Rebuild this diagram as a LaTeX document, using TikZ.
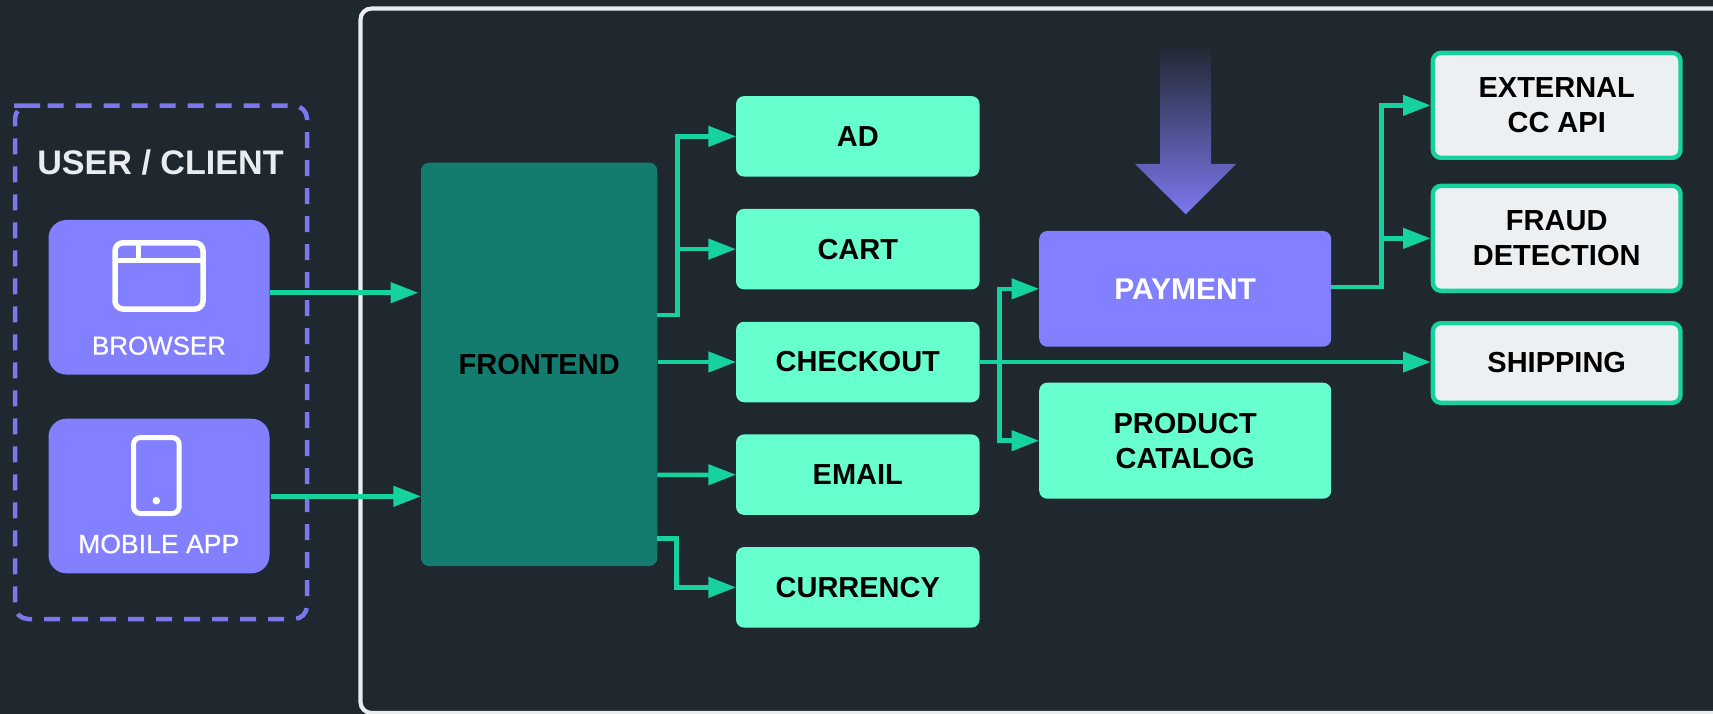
\documentclass[tikz,border=0pt]{standalone}
\usepackage{fontspec}
\setmainfont{Liberation Sans}
\newfontfamily\medfont[FakeBold=0.6]{Liberation Sans}
\usetikzlibrary{arrows.meta}
\definecolor{bgc}{HTML}{1F272F}
\definecolor{panelc}{HTML}{E9EDF0}
\definecolor{violetc}{HTML}{8280FF}
\definecolor{dashc}{HTML}{7B78EE}
\definecolor{mintc}{HTML}{67FFCD}
\definecolor{tealc}{HTML}{137C6E}
\definecolor{linec}{HTML}{15D29E}
\definecolor{palec}{HTML}{ECF0F3}
\tikzset{
  x=1pt,y=-1pt,
  boxbase/.style={rectangle,rounded corners=8pt,outer sep=0pt,inner sep=0pt,align=center,
    font=\fontsize{29}{35}\selectfont\bfseries,text=black},
  svc/.style={boxbase,fill=mintc,minimum width=243.5pt,minimum height=80.5pt},
  wide/.style={boxbase,fill=mintc,minimum width=292pt},
  ext/.style={boxbase,fill=palec,draw=linec,line width=4.4pt,outer sep=2.2pt,minimum width=247.6pt},
  client/.style={rectangle,rounded corners=18pt,fill=violetc,outer sep=0pt,inner sep=0pt,
    minimum width=221pt,minimum height=154.6pt},
  captext/.style={inner sep=0pt,text=white},
  link/.style={draw=linec,line width=4.5pt,-{Triangle[length=27.7pt,width=20pt]}},
  icon/.style={draw=white,line width=5.5pt},
}
\begin{document}
\begin{tikzpicture}
\useasboundingbox (0,0) rectangle (1713,714);
\clip (0,0) rectangle (1713,714);
\fill[bgc] (0,0) rectangle (1713,714);
% panel
\draw[panelc,line width=4.2pt,rounded corners=11pt] (1760,8.5) -- (360.5,8.5) -- (360.5,713) -- (1760,713);
% client group
\draw[dashc,line width=4.5pt,rounded corners=13pt,dash pattern=on 16pt off 12pt,dash phase=20.3pt]
  (27,105.7) -- (307,105.7) -- (307,619) -- (15,619) -- (15,105.7) -- cycle;
\node[inner sep=0pt,text=panelc,font=\fontsize{34.1}{40}\selectfont\bfseries] (title) at (160.5,162.5) {USER / CLIENT};
\node[client] (browser) at (159,297.3) {};
\node[client] (mobile) at (159,496) {};
\node[captext,font=\fontsize{25.9}{30}\medfont] (browsertext) at (159,345.7) {BROWSER};
\node[captext,font=\fontsize{26.6}{30}\medfont] (mobiletext) at (158.7,544) {MOBILE APP};
% browser icon
\draw[icon,rounded corners=8pt] (115,242.8) rectangle (203,309);
\draw[icon] (115,260.7) -- (203,260.7);
\draw[icon] (138.3,243) -- (138.3,260.7);
% phone icon
\draw[icon,line width=5pt,rounded corners=7pt] (133.5,437.5) rectangle (179.2,513.5);
\fill[white] (156.3,500.7) circle (3.8);
% main boxes
\node[boxbase,fill=tealc,minimum width=236.3pt,minimum height=403.3pt] (fe) at (539.15,364.35) {FRONTEND};
\node[svc] (ad) at (857.8,136.35) {AD};
\node[svc] (cart) at (857.8,249.15) {CART};
\node[svc] (checkout) at (857.8,362) {CHECKOUT};
\node[svc] (email) at (857.8,474.65) {EMAIL};
\node[svc] (currency) at (857.8,587.35) {CURRENCY};
\node[wide,fill=violetc,text=white,minimum height=115.7pt,font=\fontsize{30}{35}\selectfont\bfseries] (payment) at (1185.2,288.85) {PAYMENT};
\node[wide,minimum height=116pt] (catalog) at (1185.2,440.7) {PRODUCT\\CATALOG};
\node[ext,minimum height=104.9pt] (extapi) at (1556.7,105.35) {EXTERNAL\\CC API};
\node[ext,minimum height=104.9pt] (fraud) at (1556.7,238.35) {FRAUD\\DETECTION};
\node[ext,minimum height=79.6pt] (shipping) at (1556.7,363) {SHIPPING};
% load arrow
\shade[top color=bgc,bottom color=dashc,shading angle=0]
  (1160,43) -- (1211,43) -- (1211,164) -- (1236,164) -- (1185.7,214.3) -- (1135,164) -- (1160,164) -- cycle;
% connector anchors
\coordinate (feA) at (657.3,315);
\coordinate (busA) at (677.3,315);
\coordinate (feB) at (658.3,362);
\coordinate (feC) at (657.3,475);
\coordinate (feD) at (657.3,538.7);
\coordinate (busD) at (676.7,538.7);
\coordinate (browserOut) at (269.5,292.7);
\coordinate (browserIn) at (418.3,292.7);
\coordinate (mobileOut) at (270.7,496.3);
\coordinate (mobileIn) at (421,496.3);
\coordinate (coOut) at (979.5,362);
\coordinate (busC) at (999.3,362);
\coordinate (payOut) at (1331,287);
\coordinate (busP) at (1381.5,287);
% connectors
\draw[link] (browserOut) -- (browserIn);
\draw[link] (mobileOut) -- (mobileIn);
\draw[link] (feA) -- (busA) |- (ad.west);
\draw[link] (busA) |- (cart.west);
\draw[link] (feB) -- (checkout.west);
\draw[link] (feC) -- (email.west);
\draw[link] (feD) -- (busD) |- (currency.west);
\draw[link] (coOut) -- (coOut -| shipping.west);
\draw[link] (busC) |- (payment.west);
\draw[link] (busC) |- (catalog.west);
\draw[link] (payOut) -- (busP) |- (extapi.west);
\draw[link] (busP) |- (fraud.west);
\end{tikzpicture}
\end{document}
